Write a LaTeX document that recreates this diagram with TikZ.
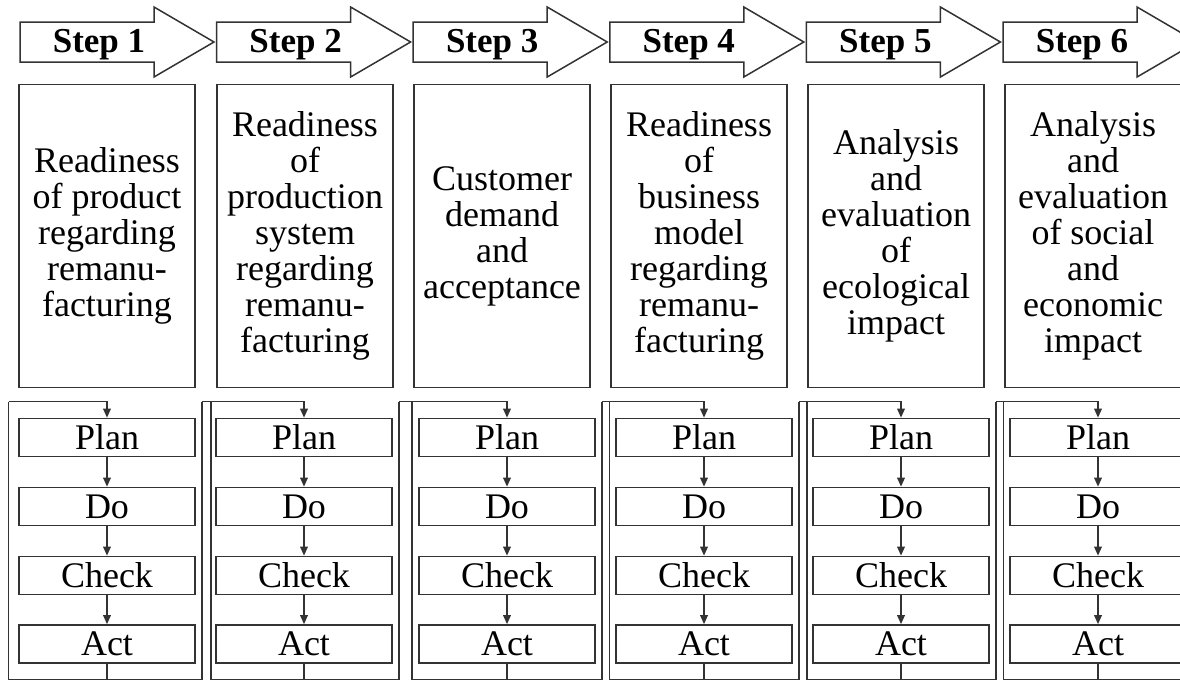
\documentclass[tikz,border=0pt]{standalone}
\usepackage{fontspec}
\setmainfont{Liberation Serif}
\usetikzlibrary{arrows.meta}
\tikzset{
  ln/.style={line width=1.7pt, draw=black!80},
  tip/.style={-{Triangle[length=9pt,width=7.5pt]}},
  arrowshape/.style={line width=1.5pt, draw=black!80, line join=miter},
  steplabel/.style={font=\fontsize{35}{36}\selectfont\bfseries, anchor=base, inner sep=0pt},
  tbox/.style={draw=black!80, line width=1.5pt, minimum width=176pt, minimum height=303pt, align=center, font=\fontsize{36}{36}\selectfont, inner sep=0pt},
  pbox/.style={draw=black!80, line width=1.6pt, minimum width=176pt, minimum height=38pt, font=\fontsize{36}{36}\selectfont, inner sep=0pt}
}
% #1 index, #2 centre x, #3 x of the loop's top-left, #4 x of inner left line
\newcommand\pdcacol[4]{%
  \node[pbox] (plan#1) at (#2,437.5) {Plan};
  \node[pbox] (do#1) at (#2,506.5) {Do};
  \node[pbox] (check#1) at (#2,575.5) {Check};
  \node[pbox] (act#1) at (#2,644) {Act};
  \draw[ln,tip] (plan#1) -- (do#1);
  \draw[ln,tip] (do#1) -- (check#1);
  \draw[ln,tip] (check#1) -- (act#1);
  \coordinate (bot#1) at (#2,679.5);
  \coordinate (inb#1) at (#4,679.5);
  \coordinate (int#1) at (#4,401.5);
  \coordinate (rb#1) at (#2+95,679.5);
  \coordinate (rt#1) at (#2+95,401.5);
  \coordinate (lt#1) at (#3,401.5);
  \draw[ln] (act#1) -- (bot#1);
  \draw[ln,line join=miter] (int#1) -- (inb#1) -- (rb#1) -- (rt#1);
  \draw[ln,tip] (lt#1) -| (plan#1);
}
\begin{document}
\begin{tikzpicture}[x=1pt,y=-1pt]
\clip (0,0) rectangle (1180,681);
\useasboundingbox (0,0) rectangle (1180,681);
\fill[white] (0,0) rectangle (1180,681);

\foreach \i [evaluate=\i as \sx using {20+196.6*(\i-1)}] in {1,...,6} {
  \draw[arrowshape] (\sx,22) -- ++(134,0) -- ++(0,-15) -- ++(60,35) -- ++(-60,35) -- ++(0,-15) -- ++(-134,0) -- cycle;
  \node[steplabel] (step\i) at (\sx+79,52) {Step \i};
}

\node[tbox] (t1) at (107,236) {Readiness\\of product\\regarding\\remanu-\\facturing};
\node[tbox] (t2) at (305,236) {Readiness\\of\\production\\system\\regarding\\remanu-\\facturing};
\node[tbox] (t3) at (502,236) {Customer\\demand\\and\\acceptance};
\node[tbox] (t4) at (699,236) {Readiness\\of\\business\\model\\regarding\\remanu-\\facturing};
\node[tbox] (t5) at (896,236) {Analysis\\and\\evaluation\\of\\ecological\\impact};
\node[tbox] (t6) at (1093,236) {Analysis\\and\\evaluation\\of social\\and\\economic\\impact};

\pdcacol{1}{107}{8.5}{8.5}
\pdcacol{2}{304}{202}{211}
\pdcacol{3}{507}{399}{412}
\pdcacol{4}{704}{602}{609.5}
\pdcacol{5}{901}{799}{807}
\pdcacol{6}{1098}{996}{1003.5}
\end{tikzpicture}
\end{document}
